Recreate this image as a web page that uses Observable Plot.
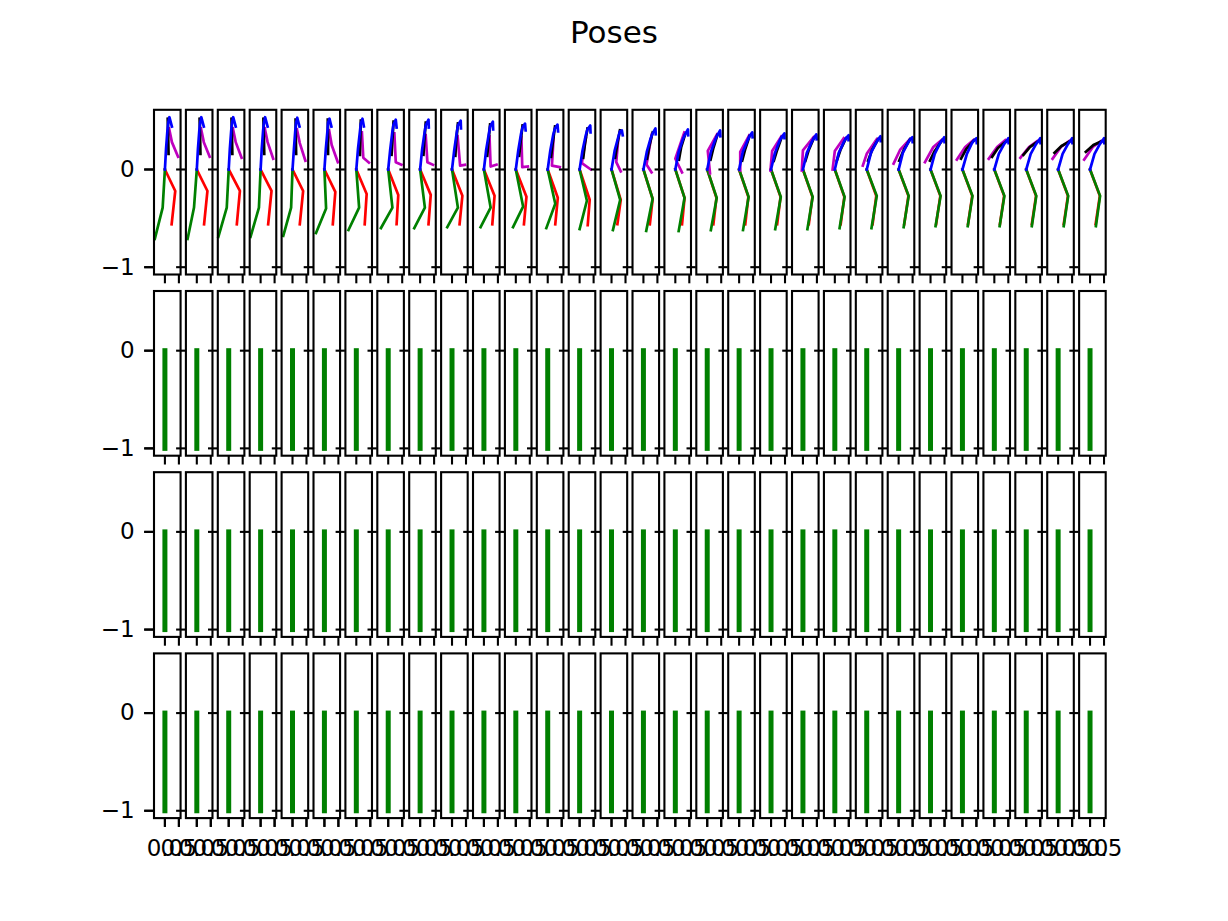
<!DOCTYPE html>
<html>
<head>
<meta charset="utf-8">
<script src="https://cdn.jsdelivr.net/npm/d3@7"></script>
<script src="https://cdn.jsdelivr.net/npm/@observablehq/plot@0.6"></script>
<style>
  html, body { margin: 0; padding: 0; background: #fff; }
  #title { width: 1228px; height: 64px; line-height: 64px; text-align: center;
           font-family: "DejaVu Sans", sans-serif; font-size: 31px; color: #000; }
  #chart { width: 1228px; }
  svg { display: block; }
</style>
</head>
<body>
<div id="title">Poses</div>
<div id="chart"></div>
<script>
// ---- data ----
const frames = [0,1,2,3,4,5,6,7,8,9,10,11,12,13,14,15,16,17,18,19,20,21,22,23,24,25,26,27,28,29];
const rows = [0, 1, 2, 3];
const xTicks = [0, 0.5];
const xTickLabels = ["0.0", "0.5"];
const yTicks = [0, -1];
const yTickLabels = ["0", "−1"];

const greenKneeX = [-0.08,-0.10,-0.07,-0.06,-0.05,0.06,0.10,0.15,0.17,0.21,0.24,0.26,0.27,0.26,0.31,0.33,0.33,0.34,0.34,0.35,0.35,0.35,0.36,0.36,0.36,0.36,0.36,0.36,0.36,0.36];
const greenKneeY = [-0.39,-0.39,-0.39,-0.39,-0.39,-0.40,-0.39,-0.39,-0.39,-0.39,-0.39,-0.38,-0.35,-0.32,-0.31,-0.30,-0.29,-0.29,-0.28,-0.28,-0.28,-0.28,-0.27,-0.27,-0.27,-0.27,-0.27,-0.27,-0.27,-0.27];
const greenFootX = [-0.36,-0.33,-0.37,-0.36,-0.33,-0.30,-0.28,-0.26,-0.21,-0.17,-0.12,-0.10,-0.05,0.00,0.05,0.10,0.12,0.13,0.14,0.15,0.16,0.17,0.17,0.18,0.18,0.19,0.19,0.20,0.20,0.21];
const greenFootY = [-0.71,-0.71,-0.69,-0.69,-0.68,-0.65,-0.62,-0.60,-0.60,-0.59,-0.59,-0.59,-0.60,-0.61,-0.62,-0.63,-0.63,-0.62,-0.62,-0.61,-0.61,-0.60,-0.60,-0.59,-0.58,-0.58,-0.58,-0.58,-0.58,-0.58];

const redKneeX = [0.37,0.38,0.40,0.39,0.38,0.39,0.37,0.36,0.38,0.37,0.38,0.38,0.36,0.36,0.33,0.33,0.33,0.33,0.33,0.34,0.34,0.34,0.34,0.35,0.35,0.35,0.35,0.35,0.35,0.35];
const redKneeY = [-0.22,-0.22,-0.22,-0.22,-0.22,-0.23,-0.25,-0.26,-0.26,-0.27,-0.27,-0.28,-0.29,-0.31,-0.31,-0.30,-0.29,-0.29,-0.28,-0.28,-0.28,-0.28,-0.27,-0.27,-0.27,-0.27,-0.27,-0.27,-0.27,-0.27];
const redFootX = [0.24,0.26,0.29,0.27,0.26,0.30,0.30,0.30,0.30,0.27,0.30,0.29,0.27,0.29,0.21,0.23,0.24,0.22,0.22,0.22,0.21,0.21,0.21,0.20,0.20,0.20,0.20,0.20,0.20,0.20];
const redFootY = [-0.56,-0.56,-0.56,-0.56,-0.56,-0.56,-0.56,-0.56,-0.56,-0.56,-0.56,-0.56,-0.56,-0.57,-0.56,-0.56,-0.56,-0.56,-0.56,-0.56,-0.56,-0.56,-0.56,-0.56,-0.56,-0.56,-0.56,-0.56,-0.56,-0.56];

const spineX = [0.04,0.04,0.04,0.04,0.05,0.05,0.06,0.07,0.07,0.08,0.08,0.09,0.09,0.10,0.11,0.12,0.12,0.13,0.13,0.14,0.14,0.14,0.15,0.15,0.15,0.16,0.16,0.16,0.16,0.16];
const spineY = [0.21,0.21,0.21,0.21,0.21,0.21,0.21,0.20,0.20,0.20,0.20,0.20,0.19,0.19,0.19,0.18,0.18,0.18,0.18,0.17,0.17,0.17,0.17,0.17,0.16,0.16,0.16,0.16,0.16,0.16];
const thoraxX = [0.09,0.09,0.09,0.09,0.10,0.11,0.13,0.15,0.16,0.17,0.18,0.19,0.20,0.22,0.24,0.26,0.27,0.28,0.29,0.30,0.31,0.32,0.33,0.33,0.34,0.34,0.35,0.35,0.35,0.35];
const thoraxY = [0.40,0.40,0.40,0.40,0.40,0.40,0.39,0.39,0.38,0.38,0.37,0.37,0.36,0.35,0.33,0.32,0.31,0.30,0.29,0.29,0.28,0.28,0.27,0.27,0.27,0.27,0.26,0.26,0.26,0.26];
const neckX = [0.12,0.12,0.12,0.12,0.13,0.13,0.16,0.19,0.20,0.21,0.22,0.24,0.26,0.28,0.30,0.33,0.35,0.36,0.37,0.38,0.39,0.40,0.41,0.41,0.42,0.42,0.43,0.43,0.43,0.43];
const neckY = [0.48,0.48,0.48,0.48,0.48,0.48,0.47,0.46,0.45,0.45,0.44,0.43,0.42,0.41,0.39,0.37,0.36,0.35,0.34,0.33,0.32,0.32,0.31,0.31,0.30,0.30,0.29,0.29,0.29,0.29];
const headX = [0.16,0.16,0.16,0.16,0.17,0.18,0.22,0.27,0.30,0.31,0.32,0.33,0.35,0.38,0.37,0.43,0.45,0.46,0.47,0.48,0.48,0.49,0.49,0.49,0.49,0.50,0.50,0.50,0.50,0.50];
const headY = [0.535,0.535,0.535,0.535,0.53,0.52,0.52,0.51,0.51,0.50,0.49,0.47,0.46,0.45,0.40,0.42,0.41,0.40,0.38,0.37,0.36,0.35,0.34,0.33,0.33,0.32,0.32,0.32,0.32,0.32];
const noseX = [0.25,0.25,0.25,0.25,0.25,0.25,0.27,0.30,0.31,0.32,0.33,0.35,0.37,0.39,0.40,0.44,0.46,0.47,0.48,0.48,0.49,0.49,0.50,0.50,0.50,0.51,0.51,0.51,0.51,0.51];
const noseY = [0.44,0.44,0.44,0.44,0.44,0.44,0.44,0.43,0.43,0.42,0.41,0.40,0.39,0.38,0.35,0.36,0.35,0.34,0.33,0.32,0.31,0.30,0.29,0.28,0.28,0.27,0.27,0.27,0.27,0.27];

const magShoulderX = [0.15,0.15,0.15,0.15,0.16,0.17,0.20,0.22,0.20,0.20,0.20,0.20,0.21,0.22,0.24,0.30,0.32,0.35,0.36,0.37,0.38,0.32,0.36,0.37,0.39,0.39,0.39,0.39,0.39,0.39];
const magShoulderY = [0.42,0.42,0.42,0.42,0.41,0.40,0.38,0.37,0.35,0.34,0.34,0.33,0.33,0.32,0.31,0.36,0.38,0.36,0.35,0.34,0.33,0.32,0.31,0.30,0.30,0.30,0.30,0.29,0.29,0.29];
const magElbowX = [0.25,0.25,0.25,0.25,0.26,0.26,0.25,0.27,0.26,0.29,0.24,0.23,0.15,0.08,0.17,0.11,0.00,0.02,0.04,0.04,0.00,0.00,0.00,0.05,0.10,0.10,0.10,0.10,0.10,0.10];
const magElbowY = [0.28,0.28,0.28,0.28,0.27,0.25,0.12,0.075,0.075,0.04,0.03,0.024,0.04,0.065,0.075,0.05,0.11,0.19,0.18,0.19,0.195,0.19,0.16,0.20,0.23,0.23,0.23,0.23,0.23,0.23];
const magWristX = [0.47,0.46,0.46,0.45,0.46,0.48,0.45,0.47,0.46,0.46,0.45,0.43,0.43,0.40,0.33,0.29,0.24,0.10,0.04,-0.02,-0.04,-0.08,-0.14,-0.18,-0.20,-0.20,-0.20,-0.21,-0.20,-0.21];
const magWristY = [0.13,0.13,0.12,0.11,0.09,0.075,0.07,0.05,0.048,0.048,0.05,0.03,0.024,0.00,-0.02,-0.03,-0.03,-0.04,-0.01,-0.01,-0.01,0.00,0.04,0.06,0.075,0.10,0.11,0.12,0.11,0.10];

const blkShoulderX = [0.10,0.10,0.10,0.10,0.11,0.12,0.16,0.19,0.20,0.21,0.22,0.24,0.26,0.28,0.30,0.33,0.35,0.36,0.37,0.38,0.39,0.40,0.41,0.41,0.42,0.42,0.43,0.43,0.43,0.43];
const blkShoulderY = [0.52,0.52,0.52,0.52,0.51,0.51,0.50,0.49,0.48,0.47,0.46,0.45,0.44,0.42,0.40,0.38,0.36,0.35,0.34,0.33,0.32,0.32,0.31,0.31,0.30,0.30,0.29,0.29,0.29,0.29];
const blkElbowX = [0.12,0.12,0.12,0.12,0.12,0.13,0.14,0.15,0.15,0.15,0.16,0.17,0.18,0.19,0.20,0.21,0.21,0.22,0.22,0.22,0.21,0.20,0.19,0.18,0.15,0.14,0.13,0.13,0.12,0.12];
const blkElbowY = [0.30,0.30,0.30,0.30,0.30,0.30,0.30,0.30,0.29,0.29,0.28,0.28,0.27,0.26,0.25,0.24,0.23,0.22,0.21,0.20,0.20,0.20,0.20,0.20,0.19,0.21,0.22,0.23,0.24,0.25];
const blkWristX = [0.13,0.13,0.13,0.13,0.13,0.13,0.13,0.12,0.12,0.12,0.12,0.12,0.12,0.13,0.13,0.13,0.13,0.12,0.11,0.10,0.09,0.07,0.05,0.02,-0.02,-0.05,-0.08,-0.10,-0.13,-0.15];
const blkWristY = [0.16,0.16,0.16,0.16,0.16,0.16,0.15,0.15,0.15,0.14,0.14,0.14,0.13,0.12,0.12,0.11,0.10,0.10,0.09,0.09,0.09,0.09,0.09,0.09,0.09,0.11,0.13,0.15,0.17,0.18];

// rows 2-4: collapsed pose, a single vertical segment at x = 0
const restX = [0, 0];
const restY = [0, -1];

const colors = { red: "#ff0000", green: "#008000", magenta: "#bf00bf", black: "#000000", blue: "#0000ff" };

// ---- build table ----
const skeleton = [];
function addLine(frame, name, pts) {
  pts.forEach(([x, y], k) => skeleton.push({ frame, row: 0, key: frame + "-" + name, color: colors[name], k, x, y }));
}
frames.forEach((f, i) => {
  addLine(f, "red", [[0, 0], [redKneeX[i], redKneeY[i]], [redFootX[i], redFootY[i]]]);
  addLine(f, "green", [[0, 0], [greenKneeX[i], greenKneeY[i]], [greenFootX[i], greenFootY[i]]]);
  addLine(f, "magenta", [[magShoulderX[i], magShoulderY[i]], [magElbowX[i], magElbowY[i]], [magWristX[i], magWristY[i]]]);
  addLine(f, "black", [[blkShoulderX[i], blkShoulderY[i]], [blkElbowX[i], blkElbowY[i]], [blkWristX[i], blkWristY[i]]]);
  addLine(f, "blue", [[0, 0], [spineX[i], spineY[i]], [thoraxX[i], thoraxY[i]], [neckX[i], neckY[i]], [headX[i], headY[i]], [noseX[i], noseY[i]]]);
});
const rest = [];
rows.slice(1).forEach(r => frames.forEach(f => {
  restX.forEach((x, k) => rest.push({ frame: f, row: r, key: r + "-" + f, x, y: restY[k] }));
}));

const chart = Plot.plot({
  width: 1228,
  height: 857,
  marginTop: 45.3,
  marginBottom: 103.4,
  marginLeft: 153.5,
  marginRight: 122.8,
  style: { fontFamily: "DejaVu Sans, sans-serif", fontSize: "23px", background: "#fff", color: "#000" },
  fx: { domain: frames, paddingInner: 0.167, paddingOuter: 0, round: false, axis: null },
  fy: { domain: rows, paddingInner: 0.091, paddingOuter: 0, round: false, axis: null },
  x: { domain: [-0.39, 0.56] },
  y: { domain: [-1.075, 0.611] },
  color: { type: "identity" },
  marks: [
    Plot.line(rest, { x: "x", y: "y", z: "key", fx: "frame", fy: "row", stroke: "#008000", strokeWidth: 5, strokeLinecap: "square" }),
    Plot.line(skeleton, { x: "x", y: "y", z: "key", fx: "frame", fy: "row", stroke: "color", strokeWidth: 2.7, strokeLinecap: "square", strokeLinejoin: "round" }),
    Plot.frame({ stroke: "#000", strokeWidth: 2.1 }),
    Plot.axisY({ ticks: yTicks, tickSize: 9.3, strokeWidth: 2.1, tickFormat: () => "", label: null, facetAnchor: null }),
    Plot.axisY({ ticks: yTicks, tickSize: 9.3, strokeWidth: 2.1, tickPadding: 10, fontSize: 23, label: null, tickFormat: d => yTickLabels[yTicks.indexOf(d)] }),
    Plot.axisX({ ticks: xTicks, tickSize: 9.3, strokeWidth: 2.1, tickFormat: () => "", label: null, facetAnchor: null }),
    Plot.axisX({ ticks: xTicks, tickSize: 9.3, strokeWidth: 2.1, tickPadding: 12, fontSize: 23, label: null, tickFormat: d => xTickLabels[xTicks.indexOf(d)] })
  ]
});
document.getElementById("chart").appendChild(chart);
</script>
</body>
</html>
